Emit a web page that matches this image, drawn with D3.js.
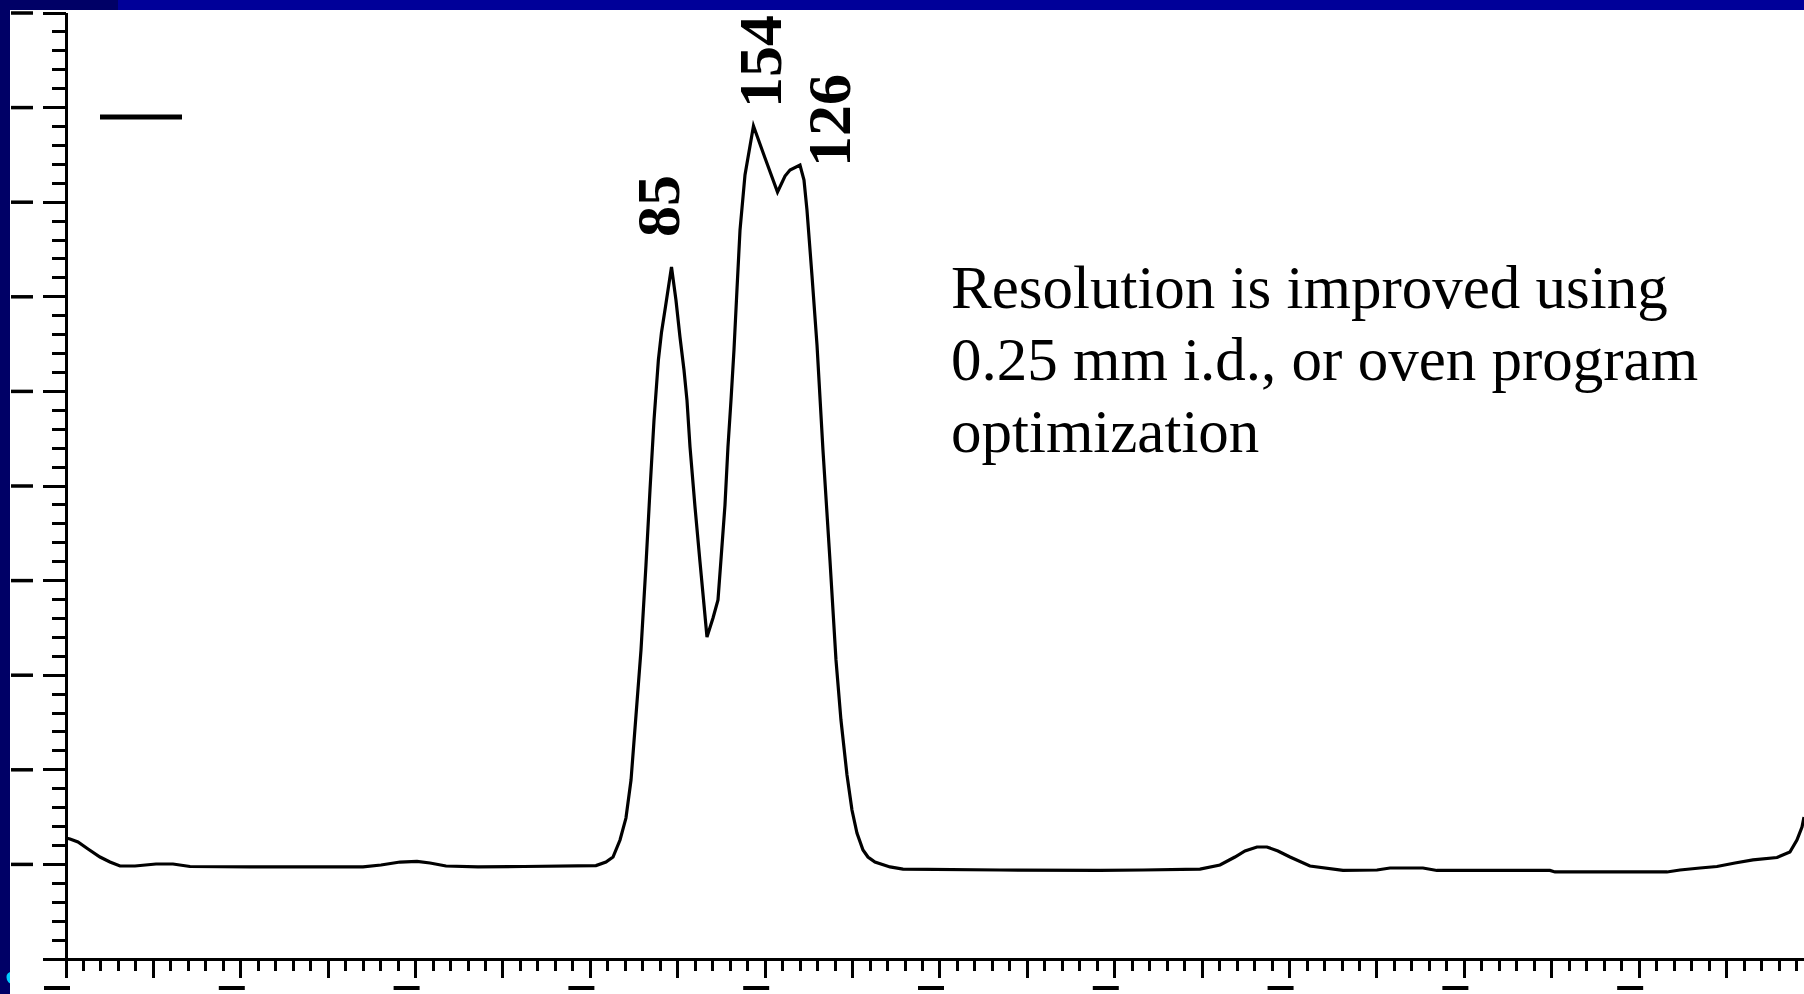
<!DOCTYPE html>
<meta charset="utf-8">
<style>
  body { margin: 0; background: #fff; }
  .axis path, .axis line { stroke: #000; fill: none; shape-rendering: crispEdges; }
  .trace { fill: none; stroke: #000; stroke-width: 3.2; stroke-linejoin: miter; }
  .peak { font-family: "Liberation Serif", "Times New Roman", serif; font-weight: bold; font-size: 62px; }
  .note { font-family: "Liberation Serif", "Times New Roman", serif; font-size: 61px; }
</style>
<div class="chart"></div>
<script src="https://cdn.jsdelivr.net/npm/d3@7"></script>
<script>
// retention time (min) and detector signal
var times = [0, 0.046, 0.137, 0.252, 0.389, 0.503, 0.618, 0.789, 1.030, 1.224, 1.419, 2.105,
  3.398, 3.604, 3.822, 4.016, 4.165, 4.348, 4.714, 5.240, 6.064, 6.178, 6.259, 6.339, 6.407,
  6.465, 6.522, 6.579, 6.636, 6.682, 6.728, 6.778, 6.813, 6.860, 6.928, 6.979, 7.025, 7.071,
  7.105, 7.140, 7.197, 7.254, 7.300, 7.334, 7.403, 7.460, 7.494, 7.540, 7.574, 7.609, 7.643,
  7.677, 7.712, 7.769, 7.866, 7.998, 8.141, 8.227, 8.284, 8.398, 8.444, 8.478, 8.535, 8.593,
  8.661, 8.741, 8.810, 8.867, 8.936, 8.993, 9.050, 9.119, 9.176, 9.256, 9.428, 9.577, 10.686,
  11.831, 12.323, 12.975, 13.204, 13.375, 13.490, 13.627, 13.741, 13.867, 14.005, 14.233,
  14.611, 15.000, 15.149, 15.526, 15.686, 16.979, 17.037, 18.318, 18.467, 18.696, 18.890,
  19.096, 19.302, 19.577, 19.725, 19.805, 19.863, 19.886];
var signal = [1.279, 1.268, 1.237, 1.163, 1.078, 1.025, 0.983, 0.983, 1.004, 1.004, 0.978, 0.973,
  0.973, 0.994, 1.025, 1.031, 1.015, 0.983, 0.973, 0.978, 0.988, 1.025, 1.078, 1.258, 1.490,
  1.892, 2.579, 3.266, 4.165, 4.958, 5.698, 6.332, 6.620, 6.900, 7.315, 6.966, 6.575, 6.226,
  5.909, 5.412, 4.778, 4.197, 3.742, 3.404, 3.605, 3.795, 4.218, 4.799, 5.412, 5.909, 6.438,
  7.072, 7.706, 8.288, 8.805, 8.467, 8.108, 8.277, 8.340, 8.393, 8.235, 7.918, 7.230, 6.490,
  5.381, 4.218, 3.161, 2.526, 1.945, 1.575, 1.332, 1.152, 1.078, 1.025, 0.973, 0.951, 0.941,
  0.936, 0.941, 0.951, 0.994, 1.078, 1.142, 1.184, 1.184, 1.142, 1.078, 0.983,
  0.936, 0.941, 0.962, 0.962, 0.936, 0.936, 0.920, 0.920, 0.941, 0.962, 0.978,
  1.015, 1.047, 1.073, 1.131, 1.258, 1.395, 1.501];

// peak labels and where their text starts (data units)
var peakNames = ["85", "154", "126"];
var peakLabelTime = [7.014, 8.181, 8.970];
var peakLabelSignal = [7.632, 8.996, 8.372];

var noteLines = ["Resolution is improved using", "0.25 mm i.d., or oven program", "optimization"];

var W = 1804, H = 994;
var svg = d3.select(".chart").append("svg").attr("width", W).attr("height", H);
svg.append("rect").attr("width", W).attr("height", H).attr("fill", "#fff");

var x = d3.scaleLinear().domain([0, 19.886]).range([66, 1804]);
var y = d3.scaleLinear().domain([0, 10]).range([959, 13]);

// y axis: minor + major ticks, no numbers
svg.append("g").attr("class", "axis").attr("transform", "translate(66,0)")
  .call(d3.axisLeft(y).tickValues(d3.range(0, 10.01, 0.2)).tickSize(14).tickSizeOuter(0).tickFormat("").offset(0))
  .call(function(g) { g.selectAll("line").attr("stroke-width", 3); g.select(".domain").attr("stroke-width", 3); });
svg.append("g").attr("class", "axis").attr("transform", "translate(66,0)")
  .call(d3.axisLeft(y).tickValues(d3.range(0, 11)).tickSize(23).tickFormat("").offset(0))
  .call(function(g) { g.selectAll("line").attr("stroke-width", 3); g.select(".domain").remove(); });

// x axis
svg.append("g").attr("class", "axis").attr("transform", "translate(0,959)")
  .call(d3.axisBottom(x).tickValues(d3.range(0, 19.9, 0.2)).tickSize(12).tickSizeOuter(0).tickFormat("").offset(0))
  .call(function(g) { g.selectAll("line").attr("stroke-width", 3); g.select(".domain").attr("stroke-width", 3); });
svg.append("g").attr("class", "axis").attr("transform", "translate(0,959)")
  .call(d3.axisBottom(x).tickValues(d3.range(0, 20)).tickSize(19).tickFormat("").offset(0))
  .call(function(g) { g.selectAll("line").attr("stroke-width", 3); g.select(".domain").remove(); });

// tick labels that show up as dashes
svg.append("g").selectAll("line").data(d3.range(1, 11)).enter().append("line")
  .attr("x1", 11).attr("x2", 33)
  .attr("y1", function(d) { return y(d); }).attr("y2", function(d) { return y(d); })
  .attr("stroke", "#000").attr("stroke-width", 3.5);
svg.append("g").selectAll("line").data(d3.range(0, 20, 2)).enter().append("line")
  .attr("x1", function(d) { return x(d) - 22; }).attr("x2", function(d) { return x(d) + 4; })
  .attr("y1", 988).attr("y2", 988)
  .attr("stroke", "#000").attr("stroke-width", 4);

// trace
var line = d3.line().x(function(d, i) { return x(times[i]); }).y(function(d) { return y(d); });
svg.append("path").attr("class", "trace").attr("d", line(signal));

// legend swatch
svg.append("line").attr("x1", 100).attr("x2", 182).attr("y1", 117).attr("y2", 117)
  .attr("stroke", "#000").attr("stroke-width", 5);

// peak labels
svg.append("g").selectAll("text").data(peakNames).enter().append("text")
  .attr("class", "peak")
  .attr("transform", function(d, i) {
    return "translate(" + x(peakLabelTime[i]) + "," + y(peakLabelSignal[i]) + ") rotate(-90)";
  })
  .text(function(d) { return d; });

// note
svg.append("g").selectAll("text").data(noteLines).enter().append("text")
  .attr("class", "note")
  .attr("x", 951).attr("y", function(d, i) { return 308 + i * 72; })
  .text(function(d) { return d; });

// slide frame
svg.append("rect").attr("x", 0).attr("y", 0).attr("width", W).attr("height", 10).attr("fill", "#000099");
svg.append("rect").attr("x", 0).attr("y", 0).attr("width", 118).attr("height", 10).attr("fill", "#000066");
svg.append("rect").attr("x", 0).attr("y", 0).attr("width", 10).attr("height", H).attr("fill", "#000066");
// bit of a cyan glyph peeking in at the bottom-left corner
svg.append("path").attr("d", "M10,972 Q5,974 7,980 Q9,984 10,983 Z").attr("fill", "#00ccff");
</script>
